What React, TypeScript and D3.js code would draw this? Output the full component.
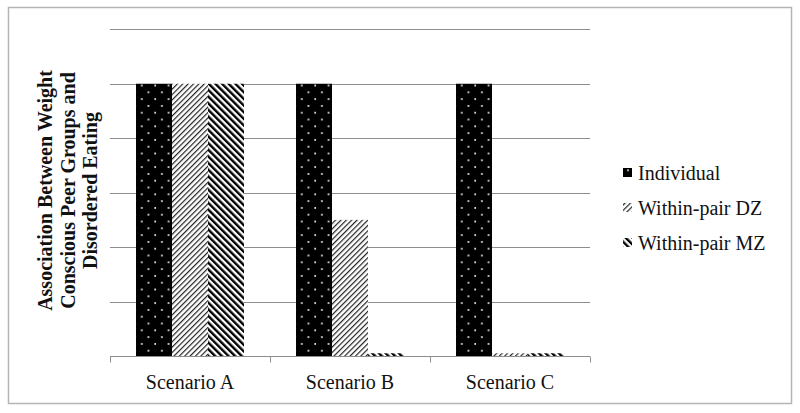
import React, { useEffect, useRef } from "react";
import * as d3 from "d3";

// chart data
const scenarios = ["Scenario A", "Scenario B", "Scenario C"];
const seriesNames = ["Individual", "Within-pair DZ", "Within-pair MZ"];
const individual = [5, 5, 5];
const withinDZ = [5, 2.5, 0.05];
const withinMZ = [5, 0.05, 0.05];
const yTicks = [0, 1, 2, 3, 4, 5, 6];
const yTitleLines = [
    "Association Between Weight",
    "Conscious Peer Groups and",
    "Disordered Eating"
];

const FONT = "'Times New Roman', 'Liberation Serif', serif";

export default function App() {
    const ref = useRef<SVGSVGElement | null>(null);

    useEffect(() => {
        const svg = d3.select(ref.current);
        svg.selectAll("*").remove();

        const width = 800;
        const height = 413;
        const margin = { top: 29.3, right: 210, bottom: 57, left: 110 };

        const seriesValues = [individual, withinDZ, withinMZ];
        const rows = scenarios.map((s, i) => ({
            scenario: s,
            values: seriesNames.map((n, j) => ({ series: n, idx: j, value: seriesValues[j][i] }))
        }));

        // ==========================
        // Patterns
        // ==========================
        const defs = svg.append("defs");

        const dots = defs.append("pattern")
            .attr("id", "pat-dots")
            .attr("patternUnits", "userSpaceOnUse")
            .attr("width", 13.4)
            .attr("height", 13.6)
            .attr("x", 2)
            .attr("y", 1);
        dots.append("rect").attr("width", 13.4).attr("height", 13.6).attr("fill", "#000");
        dots.append("circle").attr("cx", 3).attr("cy", 3).attr("r", 1).attr("fill", "#eee");
        dots.append("circle").attr("cx", 9.7).attr("cy", 9.8).attr("r", 1).attr("fill", "#eee");

        const dz = defs.append("pattern")
            .attr("id", "pat-dz")
            .attr("patternUnits", "userSpaceOnUse")
            .attr("width", 3.8)
            .attr("height", 10)
            .attr("patternTransform", "rotate(45)");
        dz.append("rect").attr("width", 3.8).attr("height", 10).attr("fill", "#fff");
        dz.append("rect").attr("width", 1.2).attr("height", 10).attr("fill", "#222");

        const mz = defs.append("pattern")
            .attr("id", "pat-mz")
            .attr("patternUnits", "userSpaceOnUse")
            .attr("width", 4.7)
            .attr("height", 10)
            .attr("patternTransform", "rotate(-45)");
        mz.append("rect").attr("width", 4.7).attr("height", 10).attr("fill", "#fff");
        mz.append("rect").attr("width", 2.4).attr("height", 10).attr("fill", "#000");

        const fills = ["url(#pat-dots)", "url(#pat-dz)", "url(#pat-mz)"];

        // ==========================
        // Scales
        // ==========================
        const x0 = d3.scaleBand()
            .domain(scenarios)
            .range([margin.left, width - margin.right])
            .padding(0);

        const x1 = d3.scaleBand()
            .domain(seriesNames)
            .range([0, x0.bandwidth()])
            .paddingInner(0)
            .paddingOuter(0.722);

        const y = d3.scaleLinear()
            .domain([0, 6])
            .range([height - margin.bottom, margin.top]);

        // outer frame
        svg.append("rect")
            .attr("x", 8.5)
            .attr("y", 7.5)
            .attr("width", 783)
            .attr("height", 396)
            .attr("fill", "#fff")
            .attr("stroke", "#b5b5b5")
            .attr("stroke-width", 1.5);

        // ==========================
        // Grid lines
        // ==========================
        svg.selectAll(".grid")
            .data(yTicks.filter(t => t > 0))
            .enter()
            .append("line")
            .attr("x1", margin.left)
            .attr("x2", width - margin.right)
            .attr("y1", d => Math.round(y(d)) + 0.5)
            .attr("y2", d => Math.round(y(d)) + 0.5)
            .attr("stroke", "#8e8e8e")
            .attr("stroke-width", 1);

        // ==========================
        // Bars
        // ==========================
        const groups = svg.selectAll(".group")
            .data(rows)
            .enter()
            .append("g")
            .attr("transform", d => `translate(${x0(d.scenario)},0)`);

        groups.selectAll("rect")
            .data(d => d.values)
            .enter()
            .append("rect")
            .attr("x", d => x1(d.series) as number)
            .attr("y", d => y(d.value))
            .attr("width", x1.bandwidth())
            .attr("height", d => y(0) - y(d.value))
            .attr("fill", d => fills[d.idx]);

        // ==========================
        // X axis
        // ==========================
        const axisY = Math.round(y(0)) + 0.5;
        svg.append("line")
            .attr("x1", margin.left)
            .attr("x2", width - margin.right)
            .attr("y1", axisY)
            .attr("y2", axisY)
            .attr("stroke", "#8e8e8e");

        const tickXs = scenarios.map(s => x0(s) as number).concat([width - margin.right]);
        svg.selectAll(".xtick")
            .data(tickXs)
            .enter()
            .append("line")
            .attr("x1", d => Math.round(d) + 0.5)
            .attr("x2", d => Math.round(d) + 0.5)
            .attr("y1", axisY)
            .attr("y2", axisY + 6)
            .attr("stroke", "#8e8e8e");

        svg.selectAll(".xlabel")
            .data(scenarios)
            .enter()
            .append("text")
            .attr("x", d => (x0(d) as number) + x0.bandwidth() / 2)
            .attr("y", 389)
            .attr("text-anchor", "middle")
            .attr("font-family", FONT)
            .attr("font-size", "20px")
            .attr("fill", "#111")
            .text(d => d);

        // ==========================
        // Y title
        // ==========================
        const title = svg.append("text")
            .attr("transform", `translate(45,190.5) rotate(-90)`)
            .attr("text-anchor", "middle")
            .attr("font-family", FONT)
            .attr("font-weight", "bold")
            .attr("font-size", "20px")
            .attr("fill", "#111");

        title.selectAll("tspan")
            .data(yTitleLines)
            .enter()
            .append("tspan")
            .attr("x", 0)
            .attr("y", (d, i) => 7 + i * 22.5)
            .text(d => d);

        // ==========================
        // Legend
        // ==========================
        const legend = svg.selectAll(".legend")
            .data(seriesNames)
            .enter()
            .append("g")
            .attr("transform", (d, i) => `translate(623,${180 + i * 35})`);

        legend.append("rect")
            .attr("x", 0)
            .attr("y", -12)
            .attr("width", 9)
            .attr("height", 9)
            .attr("fill", (d, i) => fills[i]);

        legend.append("text")
            .attr("x", 15)
            .attr("y", 0)
            .attr("font-family", FONT)
            .attr("font-size", "20px")
            .attr("fill", "#111")
            .text(d => d);
    }, []);

    return (
        <svg
            ref={ref}
            width={800}
            height={413}
            style={{ position: "absolute", left: 0, top: 0, background: "#fff" }}
        />
    );
}
